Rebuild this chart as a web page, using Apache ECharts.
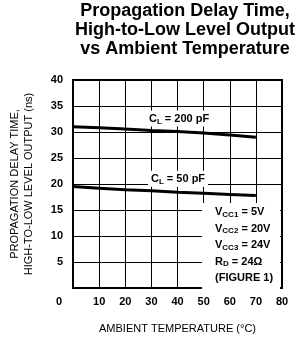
<!DOCTYPE html>
<html>
<head>
<meta charset="utf-8">
<script src="https://cdn.jsdelivr.net/npm/echarts@6/dist/echarts.min.js"></script>
<style>
  html, body { margin: 0; padding: 0; background: #fff; }
  #chart { width: 303px; height: 339px; }
</style>
</head>
<body>
<div id="chart"></div>
<script>
const temps = [0, 10, 20, 30, 40, 50, 60, 70];
const delay200pF = [31.0, 30.8, 30.6, 30.3, 30.1, 29.8, 29.4, 29.0];
const delay50pF = [19.5, 19.2, 18.9, 18.7, 18.4, 18.2, 18.0, 17.8];
const xTicks = [0, 10, 20, 30, 40, 50, 60, 70, 80];
const yTicks = [5, 10, 15, 20, 25, 30, 35, 40];

const narrow = '"Liberation Sans", Arial, sans-serif';

const chart = echarts.init(document.getElementById('chart'));

function curve(values, label, at) {
  return {
    type: 'line',
    data: temps.map((t, i) => [t, values[i]]),
    symbol: 'none',
    lineStyle: { color: '#000', width: 3 },
    silent: true,
    markPoint: {
      symbol: 'rect',
      symbolSize: 1,
      itemStyle: { color: 'rgba(0,0,0,0)' },
      data: [{ coord: at }],
      label: {
        show: true,
        position: 'inside',
        backgroundColor: '#fff',
        padding: [1, 3],
        formatter: '{a|C}{b|L}{a| = ' + label + '}',
        rich: {
          a: { fontFamily: narrow, fontWeight: 'bold', fontSize: 11, color: '#000' },
          b: { fontFamily: narrow, fontWeight: 'bold', fontSize: 8, color: '#000', verticalAlign: 'bottom', padding: [6, 0, 0, 0] }
        }
      }
    }
  };
}

chart.setOption({
  animation: false,
  grid: {
    left: 72, right: 21, top: 80, bottom: 49,
    show: true, borderColor: '#000', borderWidth: 2
  },
  xAxis: {
    type: 'value',
    min: 0, max: 80, interval: 10,
    name: 'AMBIENT TEMPERATURE (°C)',
    nameLocation: 'middle',
    nameGap: 35,
    nameTextStyle: { fontFamily: narrow, fontSize: 11, color: '#000' },
    axisLine: { show: false },
    axisTick: { show: false },
    splitLine: { lineStyle: { color: '#000', width: 1 } },
    axisLabel: {
      margin: 8,
      fontFamily: narrow, fontWeight: 'bold', fontSize: 11, color: '#000',
      formatter: v => xTicks.includes(v) ? (v === 0 ? '{z|0}' : String(v)) : '',
      rich: { z: { fontFamily: narrow, fontWeight: 'bold', fontSize: 11, color: '#000', padding: [0, 28, 0, 0] } }
    }
  },
  yAxis: {
    type: 'value',
    min: 0, max: 40, interval: 5,
    name: 'PROPAGATION DELAY TIME,\nHIGH-TO-LOW LEVEL OUTPUT (ns)',
    nameLocation: 'middle',
    nameRotate: 90,
    nameGap: 37,
    nameTextStyle: { fontFamily: narrow, fontSize: 11, color: '#000', lineHeight: 14 },
    axisLine: { show: false },
    axisTick: { show: false },
    splitLine: { lineStyle: { color: '#000', width: 1 } },
    axisLabel: {
      margin: 10,
      fontFamily: narrow, fontWeight: 'bold', fontSize: 11, color: '#000',
      formatter: v => yTicks.includes(v) ? String(v) : ''
    }
  },
  series: [
    curve(delay200pF, '200 pF', [40.6, 32.6]),
    curve(delay50pF, '50 pF', [40.2, 21.0])
  ],
  graphic: [
    {
      type: 'text',
      x: 185, y: 2,
      style: {
        text: 'Propagation Delay Time,\nHigh-to-Low Level Output\nvs Ambient Temperature',
        fontFamily: '"Liberation Sans", Arial, sans-serif',
        fontWeight: 'bold', fontSize: 18, lineHeight: 18.8,
        fill: '#000', textAlign: 'center'
      }
    },
    {
      type: 'rect',
      shape: { x: 202, y: 203, width: 78, height: 86 },
      style: { fill: '#fff' },
      z: 10
    },
    {
      type: 'text',
      x: 215, y: 204,
      z: 11,
      style: {
        text: '{v|V}{s|CC1}{v| = 5V}\n{v|V}{s|CC2}{v| = 20V}\n{v|V}{s|CC3}{v| = 24V}\n{v|R}{s|D}{v| = 24Ω}\n{v|(FIGURE 1)}',
        rich: {
          v: { fontFamily: narrow, fontWeight: 'bold', fontSize: 11, fill: '#000', lineHeight: 16.5 },
          s: { fontFamily: narrow, fontWeight: 'bold', fontSize: 8, fill: '#000', lineHeight: 16.5, padding: [5, 0, 0, 0] }
        }
      }
    }
  ]
});
</script>
</body>
</html>
